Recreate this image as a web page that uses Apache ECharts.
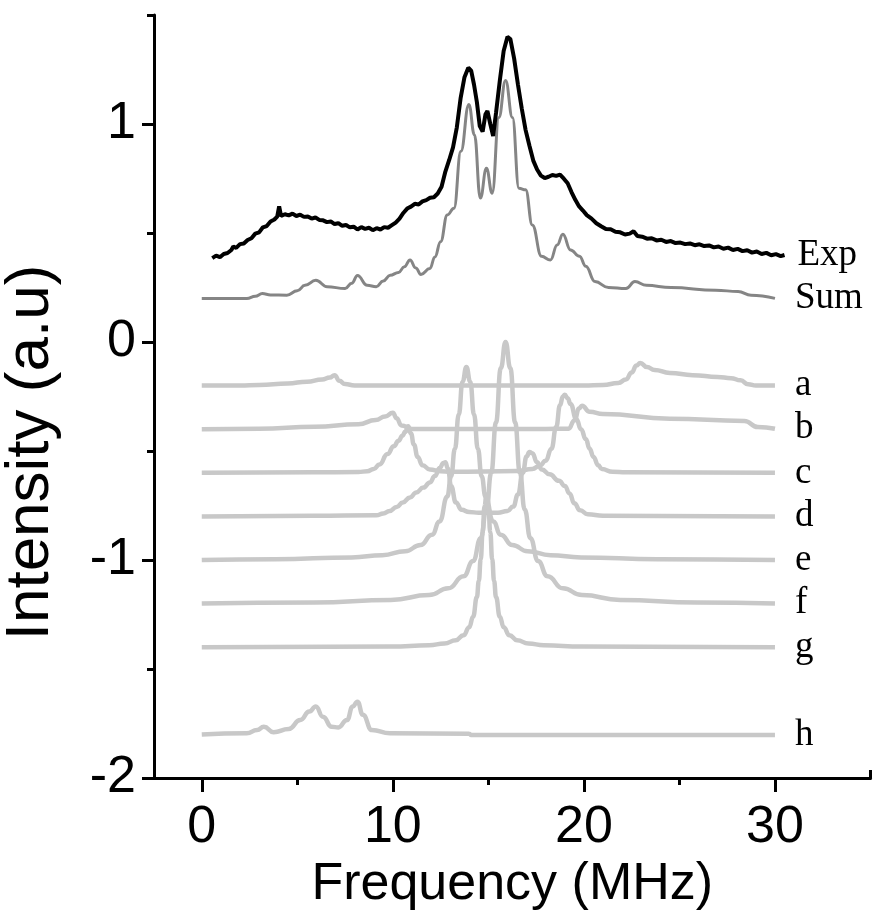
<!DOCTYPE html>
<html>
<head>
<meta charset="utf-8">
<script src="https://cdn.jsdelivr.net/npm/echarts@6/dist/echarts.min.js"></script>
<style>
  html, body { margin: 0; padding: 0; background: #fff; }
  #chart { width: 878px; height: 917px; }
</style>
</head>
<body>
<div id="chart"></div>
<script>
// tick positions
const xMajorTicks = [0, 10, 20, 30]
const xMinorTicks = [5, 15, 25]

// spectra, [frequency MHz, intensity a.u.]
const expData = [
  [0.55, 0.385], [0.75, 0.396], [0.95, 0.389], [1.15, 0.404], [1.35, 0.408], [1.55, 0.422], [1.65, 0.438],
  [1.8, 0.432], [2.0, 0.449], [2.2, 0.452], [2.4, 0.468], [2.6, 0.476], [2.8, 0.497], [3.0, 0.503],
  [3.2, 0.526], [3.4, 0.532], [3.6, 0.553], [3.8, 0.562], [3.95, 0.575], [4.05, 0.622], [4.15, 0.578],
  [4.35, 0.586], [4.55, 0.581], [4.75, 0.589], [4.95, 0.578], [5.15, 0.584], [5.35, 0.574], [5.55, 0.576],
  [5.75, 0.566], [5.95, 0.571], [6.15, 0.56], [6.35, 0.558], [6.55, 0.55], [6.75, 0.553], [6.95, 0.541],
  [7.15, 0.545], [7.35, 0.533], [7.55, 0.537], [7.75, 0.526], [7.95, 0.529], [8.15, 0.516], [8.35, 0.527],
  [8.55, 0.519], [8.75, 0.524], [8.95, 0.513], [9.15, 0.522], [9.35, 0.516], [9.55, 0.527], [9.75, 0.524],
  [9.95, 0.536], [10.15, 0.548], [10.35, 0.566], [10.55, 0.592], [10.75, 0.612], [10.95, 0.621],
  [11.15, 0.634], [11.35, 0.631], [11.55, 0.645], [11.75, 0.651], [11.95, 0.662], [12.15, 0.664],
  [12.35, 0.681], [12.55, 0.712], [12.75, 0.782], [12.95, 0.835], [13.15, 0.893], [13.35, 0.985],
  [13.55, 1.12], [13.75, 1.215], [13.95, 1.258], [14.1, 1.245], [14.25, 1.18], [14.4, 1.1],
  [14.55, 0.99], [14.7, 0.965], [14.85, 1.045], [14.95, 1.06], [15.1, 1.0], [15.25, 0.945],
  [15.4, 1.05], [15.6, 1.2], [15.8, 1.335], [16.0, 1.4], [16.15, 1.39], [16.35, 1.3], [16.55, 1.18],
  [16.75, 1.07], [16.95, 0.972], [17.15, 0.9], [17.35, 0.832], [17.55, 0.791], [17.75, 0.763],
  [17.95, 0.752], [18.15, 0.758], [18.35, 0.766], [18.55, 0.762], [18.75, 0.768], [18.95, 0.749],
  [19.15, 0.728], [19.35, 0.688], [19.55, 0.652], [19.75, 0.622], [19.95, 0.603], [20.15, 0.582],
  [20.4, 0.566], [20.65, 0.545], [20.9, 0.531], [21.15, 0.518], [21.4, 0.517], [21.65, 0.506],
  [21.9, 0.503], [22.15, 0.493], [22.4, 0.497], [22.6, 0.508], [22.8, 0.486], [23.05, 0.483],
  [23.3, 0.474], [23.55, 0.476], [23.8, 0.466], [24.05, 0.469], [24.3, 0.459], [24.55, 0.463],
  [24.8, 0.454], [25.05, 0.456], [25.3, 0.449], [25.55, 0.452], [25.8, 0.444], [26.05, 0.448],
  [26.3, 0.44], [26.55, 0.443], [26.8, 0.434], [27.05, 0.438], [27.3, 0.428], [27.55, 0.433],
  [27.8, 0.422], [28.05, 0.427], [28.3, 0.417], [28.55, 0.421], [28.8, 0.41], [29.05, 0.415],
  [29.3, 0.404], [29.55, 0.409], [29.8, 0.398], [30.05, 0.403], [30.3, 0.394], [30.5, 0.399]
]
const sumData = [
  [0, 0.2], [2.36, 0.2], [2.8, 0.21], [3.17, 0.222], [3.6, 0.216], [4.45, 0.215], [5.0, 0.235],
  [5.4, 0.26], [5.97, 0.283], [6.56, 0.254], [7.5, 0.245], [7.85, 0.27], [8.15, 0.305], [8.66, 0.26],
  [9.13, 0.254], [9.5, 0.28], [9.86, 0.306], [10.3, 0.319], [10.6, 0.345], [10.9, 0.376], [11.2, 0.34],
  [11.47, 0.31], [11.94, 0.337], [12.2, 0.39], [12.5, 0.46], [12.85, 0.583], [13.2, 0.613],
  [13.56, 0.875], [13.98, 1.09], [14.27, 0.951], [14.58, 0.66], [14.9, 0.797], [15.2, 0.682],
  [15.55, 1.03], [15.9, 1.2], [16.26, 1.03], [16.6, 0.705], [16.95, 0.698], [17.3, 0.537],
  [17.78, 0.393], [18.25, 0.376], [18.6, 0.445], [18.9, 0.494], [19.3, 0.422], [19.77, 0.393],
  [20.1, 0.347], [20.58, 0.277], [21.29, 0.25], [22.2, 0.245], [22.67, 0.277], [23.27, 0.26],
  [24.56, 0.25], [26.9, 0.237], [28.07, 0.232], [28.75, 0.214], [30, 0.2]
]
const aData = [
  [0, -0.2], [2, -0.2], [3, -0.197], [4.5, -0.19], [5.5, -0.182], [6.3, -0.172], [6.7, -0.163],
  [6.95, -0.152], [7.2, -0.178], [7.5, -0.193], [8, -0.199], [10, -0.2], [20, -0.2], [21, -0.197],
  [21.8, -0.188], [22.2, -0.172], [22.5, -0.14], [22.75, -0.108], [22.95, -0.096], [23.3, -0.115],
  [23.7, -0.128], [24.5, -0.142], [25.7, -0.152], [27, -0.16], [27.7, -0.166], [28.2, -0.176],
  [28.6, -0.194], [29, -0.2], [30, -0.2]
]
const bData = [
  [0, -0.4], [3, -0.398], [5.9, -0.389], [8.2, -0.377], [9.1, -0.358], [9.6, -0.342], [10.0, -0.325],
  [10.2, -0.35], [10.45, -0.383], [11, -0.399], [18, -0.399], [19.2, -0.398], [19.5, -0.36],
  [19.75, -0.305], [19.9, -0.292], [20.3, -0.32], [21, -0.33], [24.5, -0.352], [28.4, -0.362],
  [29.1, -0.39], [30, -0.398]
]
const cData = [
  [0, -0.6], [5.86, -0.598], [8.2, -0.596], [8.66, -0.593], [9.0, -0.582], [9.3, -0.562], [9.72, -0.514],
  [10.05, -0.478], [10.3, -0.453], [10.5, -0.43], [10.65, -0.412], [10.8, -0.387], [10.95, -0.42],
  [11.1, -0.47], [11.3, -0.527], [11.55, -0.565], [11.94, -0.585], [12.5, -0.593], [13, -0.595],
  [16.5, -0.592], [17.3, -0.582], [17.7, -0.567], [18.0, -0.545], [18.3, -0.49], [18.55, -0.39],
  [18.75, -0.29], [18.9, -0.25], [19.0, -0.242], [19.15, -0.258], [19.3, -0.284], [19.6, -0.353],
  [19.85, -0.4], [20.1, -0.445], [20.3, -0.49], [20.5, -0.527], [20.75, -0.565], [20.94, -0.583],
  [21.5, -0.595], [22.2, -0.598], [30, -0.6]
]
const dData = [
  [0, -0.8], [5.86, -0.797], [9.13, -0.795], [9.5, -0.787], [9.83, -0.775], [10.2, -0.757], [10.52, -0.736],
  [10.9, -0.713], [11.23, -0.69], [11.6, -0.668], [11.94, -0.644], [12.2, -0.615], [12.45, -0.578],
  [12.65, -0.555], [12.75, -0.552], [12.88, -0.58], [13.05, -0.66], [13.3, -0.736], [13.6, -0.77],
  [14.0, -0.78], [14.5, -0.783], [15.5, -0.783], [16.0, -0.775], [16.3, -0.755], [16.55, -0.7],
  [16.8, -0.6], [17.0, -0.525], [17.15, -0.505], [17.3, -0.51], [17.55, -0.552], [17.8, -0.585],
  [18.2, -0.607], [18.7, -0.637], [19.0, -0.66], [19.25, -0.695], [19.5, -0.74], [19.8, -0.772],
  [20.2, -0.79], [21, -0.797], [30, -0.8]
]
const eData = [
  [0, -1], [3.85, -0.996], [7.85, -0.988], [9.45, -0.978], [10.65, -0.96], [11.45, -0.931],
  [12.05, -0.884], [12.45, -0.823], [12.85, -0.709], [13.05, -0.616], [13.25, -0.49], [13.45, -0.333],
  [13.65, -0.182], [13.85, -0.115], [14.05, -0.182], [14.25, -0.333], [14.45, -0.49], [14.65, -0.616],
  [14.85, -0.709], [15.25, -0.823], [15.65, -0.884], [16.25, -0.931], [17.05, -0.96], [18.25, -0.978],
  [19.85, -0.988], [23.85, -0.996], [30, -1]
]
const fData = [
  [0, -1.2], [5.9, -1.195], [9.9, -1.183], [11.9, -1.161], [12.9, -1.13], [13.7, -1.075], [14.2, -1.005],
  [14.6, -0.9], [14.9, -0.768], [15.15, -0.6], [15.4, -0.369], [15.65, -0.12], [15.9, 0.0],
  [16.15, -0.12], [16.4, -0.369], [16.65, -0.6], [16.9, -0.768], [17.2, -0.9], [17.6, -1.005],
  [18.1, -1.075], [18.9, -1.13], [19.9, -1.161], [21.9, -1.183], [25.9, -1.195], [30, -1.2]
]
const gData = [
  [0, -1.4], [9.9, -1.397], [11.9, -1.391], [12.7, -1.383], [13.3, -1.368], [13.7, -1.345], [14.0, -1.308],
  [14.2, -1.26], [14.4, -1.17], [14.5, -1.096], [14.6, -0.997], [14.7, -0.873], [14.8, -0.753],
  [14.9, -0.7], [15.0, -0.753], [15.1, -0.873], [15.2, -0.997], [15.3, -1.096], [15.4, -1.17],
  [15.6, -1.26], [15.8, -1.308], [16.1, -1.345], [16.5, -1.368], [17.1, -1.383], [17.9, -1.391],
  [19.9, -1.397], [30, -1.4]
]
const hData = [
  [0, -1.8], [2.36, -1.795], [2.9, -1.78], [3.25, -1.765], [3.76, -1.79], [4.55, -1.775], [5.16, -1.734],
  [5.63, -1.695], [5.97, -1.672], [6.34, -1.719], [6.8, -1.765], [7.15, -1.768], [7.6, -1.734],
  [7.9, -1.672], [8.15, -1.65], [8.43, -1.71], [8.9, -1.78], [9.85, -1.795], [14.0, -1.797],
  [14.1, -1.803], [30, -1.803]
]

const compNames = ['a', 'b', 'c', 'd', 'e', 'f', 'g', 'h']
const compData = [aData, bData, cData, dData, eData, fData, gData, hData]

const chart = echarts.init(document.getElementById('chart'))

const labelFont = {
  color: '#000',
  fontFamily: 'Liberation Serif',
  fontSize: 37
}

const series = compNames.map((name, i) => ({
  name: name,
  type: 'line',
  data: compData[i],
  showSymbol: false,
  smooth: 0.5,
  smoothMonotone: 'x',
  lineStyle: { color: '#c8c8c8', width: 4.5 },
  endLabel: { show: true, formatter: '{a}', distance: 20, ...labelFont }
}))

series.push({
  name: 'Sum',
  type: 'line',
  data: sumData,
  showSymbol: false,
  smooth: 0.45,
  smoothMonotone: 'x',
  lineStyle: { color: '#858585', width: 3 },
  endLabel: { show: true, formatter: '{a}', distance: 20, ...labelFont }
})

series.push({
  name: 'Exp',
  type: 'line',
  data: expData,
  showSymbol: false,
  lineStyle: { color: '#000', width: 4 },
  endLabel: { show: true, formatter: '{a}', distance: 13, ...labelFont }
})

const axisFont = {
  color: '#000',
  fontFamily: 'Liberation Sans',
  fontSize: 52
}

const option = {
  animation: false,
  backgroundColor: '#fff',
  grid: {
    left: 154,
    right: 7.5,
    top: 15,
    bottom: 139,
    containLabel: false,
    outerBoundsMode: 'none'
  },
  xAxis: [
    {
      type: 'value',
      min: -2.5,
      max: 35,
      name: 'Frequency (MHz)',
      nameLocation: 'middle',
      nameGap: 66,
      nameTextStyle: axisFont,
      axisLine: { onZero: false, lineStyle: { color: '#000', width: 3 } },
      axisTick: { customValues: xMajorTicks, length: 14, lineStyle: { color: '#000', width: 3 } },
      axisLabel: { customValues: xMajorTicks, margin: 24, ...axisFont },
      splitLine: { show: false }
    },
    {
      type: 'value',
      min: -2.5,
      max: 35,
      position: 'bottom',
      axisLine: { show: false, onZero: false },
      axisTick: { customValues: xMinorTicks, length: 7, lineStyle: { color: '#000', width: 3 } },
      axisLabel: { show: false },
      splitLine: { show: false }
    },
    {
      type: 'value',
      min: -2.5,
      max: 35,
      position: 'bottom',
      axisLine: { show: false, onZero: false },
      axisTick: { customValues: [35], inside: true, length: 8, lineStyle: { color: '#000', width: 3 } },
      axisLabel: { show: false },
      splitLine: { show: false }
    }
  ],
  yAxis: [
    {
      type: 'value',
      min: -2,
      max: 1.5,
      interval: 1,
      name: 'Intensity (a.u)',
      nameLocation: 'middle',
      nameGap: 92,
      nameTextStyle: { ...axisFont, fontSize: 62, padding: [0, 112, 0, 0] },
      axisLine: { show: true, onZero: false, lineStyle: { color: '#000', width: 3 } },
      axisTick: { length: 12, lineStyle: { color: '#000', width: 3 } },
      axisLabel: {
        margin: 18,
        showMaxLabel: false,
        formatter: v => (Number.isInteger(v) ? String(v) : ''),
        ...axisFont
      },
      splitLine: { show: false }
    },
    {
      type: 'value',
      min: -2,
      max: 1.5,
      interval: 0.5,
      position: 'left',
      axisLine: { show: false, onZero: false },
      axisTick: { length: 7, lineStyle: { color: '#000', width: 3 } },
      axisLabel: { show: false },
      splitLine: { show: false }
    }
  ],
  series: series
}

chart.setOption(option)

window.addEventListener('resize', () => chart.resize())
</script>
</body>
</html>
